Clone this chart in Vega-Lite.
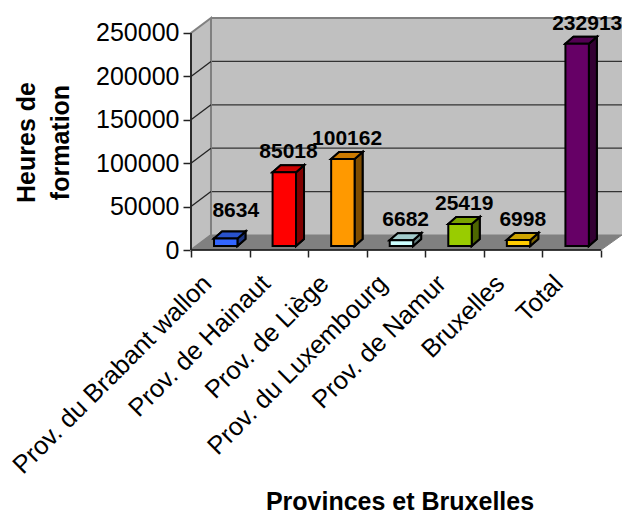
{"$schema":"https://vega.github.io/schema/vega-lite/v6.json","width":431,"height":250,"autosize":"none","padding":{"left":191,"top":0,"right":0,"bottom":262},"background":"white","config":{"view":{"stroke":null}},
"datasets":{"bars":[{"name":"Prov. du Brabant wallon","i":0,"value":8634},{"name":"Prov. de Hainaut","i":1,"value":85018},{"name":"Prov. de Liège","i":2,"value":100162},{"name":"Prov. du Luxembourg","i":3,"value":6682},{"name":"Prov. de Namur","i":4,"value":25419},{"name":"Bruxelles","i":5,"value":6998},{"name":"Total","i":6,"value":232913}],
"back":[{"u0":0.3414,"u1":7.359,"v0":17281,"v1":267281}],
"walls":[{"k":0,"u":0,"v":0},{"k":1,"u":0.3414,"v":17281},{"k":2,"u":0.3414,"v":267281},{"k":3,"u":0,"v":250000}],
"floor":[{"k":0,"u":0,"v":0},{"k":1,"u":7,"v":0},{"k":2,"u":7.359,"v":17281},{"k":3,"u":0.3414,"v":17281}],
"grid":[{"t":50000,"b":67281,"u0":0.3414,"u1":7.359},{"t":100000,"b":117281,"u0":0.3414,"u1":7.359},{"t":150000,"b":167281,"u0":0.3414,"u1":7.359},{"t":200000,"b":217281,"u0":0.3414,"u1":7.359}],
"topedge":[{"t":250000,"b":267281,"u0":0.3414,"u1":7.359}],
"axes":[{"u0":0,"u1":7,"v0":0,"v1":250000}]},
"layer":[
{"data":{"name":"back"},"mark":{"type":"rect","fill":"#c0c0c0"},"encoding":{
"x":{"field":"u0","type":"quantitative","scale":{"domain":[0,7.359],"range":[0,431],"nice":false,"zero":false},"title":"Provinces et Bruxelles","axis":{"values":[0,1,2,3,4,5,6,7],"labelExpr":"['Prov. du Brabant wallon','Prov. de Hainaut','Prov. de Liège','Prov. du Luxembourg','Prov. de Namur','Bruxelles','Total',''][datum.value]","labelAngle":-45,"labelAlign":"right","labelBaseline":"middle","labelOffset":16,"labelPadding":22,"labelFontSize":25.5,"labelFont":"Liberation Sans","labelColor":"#000","labelOverlap":false,"labelBound":false,"labelFlush":false,"labelLimit":400,"domain":false,"grid":false,"tickSize":7,"tickColor":"#222","tickWidth":1.5,"titleFont":"Liberation Sans","titleFontSize":25,"titleFontWeight":"bold","titleColor":"#000","titleBaseline":"alphabetic","titleX":208.5,"titleY":259}},
"x2":{"field":"u1"},
"y":{"field":"v0","type":"quantitative","scale":{"domain":[0,288018],"range":[250,0],"nice":false,"zero":false},"title":["Heures de","formation"],"axis":{"values":[0,50000,100000,150000,200000,250000],"format":"d","labelFontSize":25,"labelFont":"Liberation Sans","labelColor":"#000","labelPadding":4,"domain":false,"grid":false,"tickSize":8,"tickColor":"#222","tickWidth":1.5,"titleFont":"Liberation Sans","titleFontSize":25,"titleFontWeight":"bold","titleColor":"#000","titleAngle":-90,"titleX":-152,"titleY":142,"titleLineHeight":34}},
"y2":{"field":"v1"}}},
{"data":{"name":"grid"},"mark":{"type":"rule","stroke":"#333","strokeWidth":1.3},"encoding":{"x":{"field":"u0","type":"quantitative"},"x2":{"field":"u1"},"y":{"field":"b","type":"quantitative"}}},
{"data":{"name":"topedge"},"mark":{"type":"rule","stroke":"#808080","strokeWidth":2},"encoding":{"x":{"field":"u0","type":"quantitative"},"x2":{"field":"u1"},"y":{"field":"b","type":"quantitative"}}},
{"data":{"name":"walls"},"mark":{"type":"line","interpolate":"linear-closed","fill":"#c0c0c0","stroke":"#808080","strokeWidth":2},"encoding":{"x":{"field":"u","type":"quantitative"},"y":{"field":"v","type":"quantitative"},"order":{"field":"k","type":"quantitative"}}},
{"data":{"name":"grid"},"transform":[{"calculate":"[0,0.3414]","as":"us"},{"calculate":"[datum.t,datum.b]","as":"vs"},{"flatten":["us","vs"]}],"mark":{"type":"line","stroke":"#222","strokeWidth":1.3},"encoding":{"x":{"field":"us","type":"quantitative"},"y":{"field":"vs","type":"quantitative"},"detail":{"field":"t","type":"nominal"}}},
{"data":{"name":"floor"},"mark":{"type":"line","interpolate":"linear-closed","fill":"#808080","stroke":"#808080","strokeWidth":1},"encoding":{"x":{"field":"u","type":"quantitative"},"y":{"field":"v","type":"quantitative"},"order":{"field":"k","type":"quantitative"}}},
{"data":{"name":"axes"},"mark":{"type":"rule","stroke":"#111","strokeWidth":1.5},"encoding":{"x":{"field":"u0","type":"quantitative"},"x2":{"field":"u1"},"y":{"field":"v0","type":"quantitative"}}},
{"data":{"name":"axes"},"mark":{"type":"rule","stroke":"#222","strokeWidth":1.8},"encoding":{"x":{"field":"u0","type":"quantitative"},"y":{"field":"v0","type":"quantitative"},"y2":{"field":"v1"}}},
{"data":{"name":"bars"},"transform":[{"calculate":"datum.i+0.793","as":"x1"},{"calculate":"datum.value+4609","as":"y1"},{"calculate":"[0,1,2,3]","as":"k"},{"calculate":"[datum.x1,datum.x1+0.1366,datum.x1+0.1366,datum.x1]","as":"us"},{"calculate":"[4609,12673,datum.y1+8064,datum.y1]","as":"vs"},{"flatten":["k","us","vs"]}],"mark":{"type":"line","interpolate":"linear-closed","fill":"#000","stroke":"#000"},"encoding":{"x":{"field":"us","type":"quantitative"},"y":{"field":"vs","type":"quantitative"},"order":{"field":"k","type":"quantitative"},"detail":{"field":"name","type":"nominal"}}},
{"data":{"name":"bars"},"transform":[{"calculate":"datum.i+0.793","as":"x1"},{"calculate":"datum.value+4609","as":"y1"},{"calculate":"[0,1,2,3]","as":"k"},{"calculate":"[datum.x1,datum.x1+0.1366,datum.x1+0.1366,datum.x1]","as":"us"},{"calculate":"[4609,12673,datum.y1+8064,datum.y1]","as":"vs"},{"flatten":["k","us","vs"]}],"mark":{"type":"line","interpolate":"linear-closed","stroke":"#000","strokeWidth":2,"fillOpacity":0.5},"encoding":{"x":{"field":"us","type":"quantitative"},"y":{"field":"vs","type":"quantitative"},"order":{"field":"k","type":"quantitative"},"detail":{"field":"name","type":"nominal"},"fill":{"field":"name","type":"nominal","legend":null,"scale":{"domain":["Prov. du Brabant wallon","Prov. de Hainaut","Prov. de Liège","Prov. du Luxembourg","Prov. de Namur","Bruxelles","Total"],"range":["#3366ff","#ff0000","#ff9900","#ccffff","#99cc00","#ffcc00","#660066"]}}}},
{"data":{"name":"bars"},"transform":[{"calculate":"datum.i+0.393","as":"x0"},{"calculate":"datum.i+0.793","as":"x1"},{"calculate":"datum.value+4609","as":"y1"},{"calculate":"[0,1,2,3]","as":"k"},{"calculate":"[datum.x0,datum.x1,datum.x1+0.1366,datum.x0+0.1366]","as":"us"},{"calculate":"[datum.y1,datum.y1,datum.y1+8064,datum.y1+8064]","as":"vs"},{"flatten":["k","us","vs"]}],"mark":{"type":"line","interpolate":"linear-closed","fill":"#000","stroke":"#000"},"encoding":{"x":{"field":"us","type":"quantitative"},"y":{"field":"vs","type":"quantitative"},"order":{"field":"k","type":"quantitative"},"detail":{"field":"name","type":"nominal"}}},
{"data":{"name":"bars"},"transform":[{"calculate":"datum.i+0.393","as":"x0"},{"calculate":"datum.i+0.793","as":"x1"},{"calculate":"datum.value+4609","as":"y1"},{"calculate":"[0,1,2,3]","as":"k"},{"calculate":"[datum.x0,datum.x1,datum.x1+0.1366,datum.x0+0.1366]","as":"us"},{"calculate":"[datum.y1,datum.y1,datum.y1+8064,datum.y1+8064]","as":"vs"},{"flatten":["k","us","vs"]}],"mark":{"type":"line","interpolate":"linear-closed","stroke":"#000","strokeWidth":2,"fillOpacity":0.8},"encoding":{"x":{"field":"us","type":"quantitative"},"y":{"field":"vs","type":"quantitative"},"order":{"field":"k","type":"quantitative"},"detail":{"field":"name","type":"nominal"},"fill":{"field":"name","type":"nominal","legend":null}}},
{"data":{"name":"bars"},"transform":[{"calculate":"datum.i+0.393","as":"x0"},{"calculate":"datum.i+0.793","as":"x1"},{"calculate":"datum.value+4609","as":"y1"},{"calculate":"4609","as":"base"}],"mark":{"type":"rect","stroke":"#000","strokeWidth":2},"encoding":{"x":{"field":"x0","type":"quantitative"},"x2":{"field":"x1"},"y":{"field":"base","type":"quantitative"},"y2":{"field":"y1"},"fill":{"field":"name","type":"nominal","legend":null}}},
{"data":{"name":"bars"},"transform":[{"calculate":"datum.value+4609","as":"y1"},{"calculate":"datum.i+0.665+((datum.i==0||datum.i==6)?0.1:0)","as":"tx"},{"calculate":"datum.y1+16128+(datum.i==0?9200:0)","as":"ty"}],"mark":{"type":"text","font":"Liberation Sans","fontSize":21,"fontWeight":"bold","baseline":"alphabetic","align":"center","color":"#000"},"encoding":{"x":{"field":"tx","type":"quantitative"},"y":{"field":"ty","type":"quantitative"},"text":{"field":"value","type":"quantitative","format":"d"}}}
]}
